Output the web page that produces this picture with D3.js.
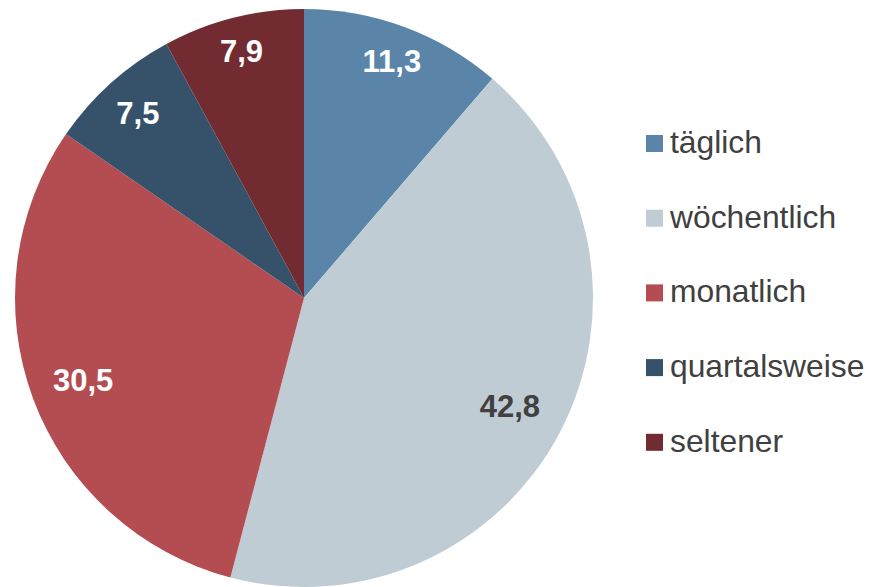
<!DOCTYPE html>
<html><head><meta charset="utf-8">
<script src="https://cdn.jsdelivr.net/npm/d3@7"></script>
<style>body{margin:0;background:#fff}svg{display:block}</style>
</head><body>
<svg id="c" width="869" height="587"></svg>
<script>
const categories = ["täglich","wöchentlich","monatlich","quartalsweise","seltener"];
const values = [11.3, 42.8, 30.5, 7.5, 7.9];
const labels = ["11,3","42,8","30,5","7,5","7,9"];
const colors = ["#5a85a8","#bfccd4","#b34d51","#36526b","#722b30"];
const labelColors = ["#ffffff","#404040","#ffffff","#ffffff","#ffffff"];
const labelRadiusFactor = [0.875, 0.805, 0.815, 0.86, 0.88];

const svg = d3.select("#c");
const cx = 304, cy = 298, R = 289;
const pie = d3.pie().sort(null).value(d => d)(values);
const arc = d3.arc().innerRadius(0).outerRadius(R);
const g = svg.append("g").attr("transform", `translate(${cx},${cy})`);
g.selectAll("path").data(pie).join("path")
  .attr("d", arc).attr("fill", (d,i) => colors[i]);
g.selectAll("text").data(pie).join("text")
  .attr("transform", (d,i) => {
    const a = (d.startAngle + d.endAngle)/2, r = R*labelRadiusFactor[i];
    return `translate(${Math.sin(a)*r},${-Math.cos(a)*r})`;
  })
  .attr("text-anchor","middle").attr("dy","0.35em")
  .attr("font-family","Liberation Sans, Arial, sans-serif")
  .attr("font-weight","bold").attr("font-size",31)
  .attr("fill",(d,i)=>labelColors[i])
  .text((d,i)=>labels[i]);

const leg = svg.append("g");
const rows = leg.selectAll("g").data(categories).join("g")
  .attr("transform",(d,i)=>`translate(646,${153 + i*74.7})`);
rows.append("rect").attr("x",0).attr("y",-18).attr("width",17).attr("height",17)
  .attr("fill",(d,i)=>colors[i]);
rows.append("text").attr("x",24).attr("y",0)
  .attr("font-family","Liberation Sans, Arial, sans-serif")
  .attr("font-size",31.8).attr("fill","#404040").text(d=>d);
</script>
</body></html>
